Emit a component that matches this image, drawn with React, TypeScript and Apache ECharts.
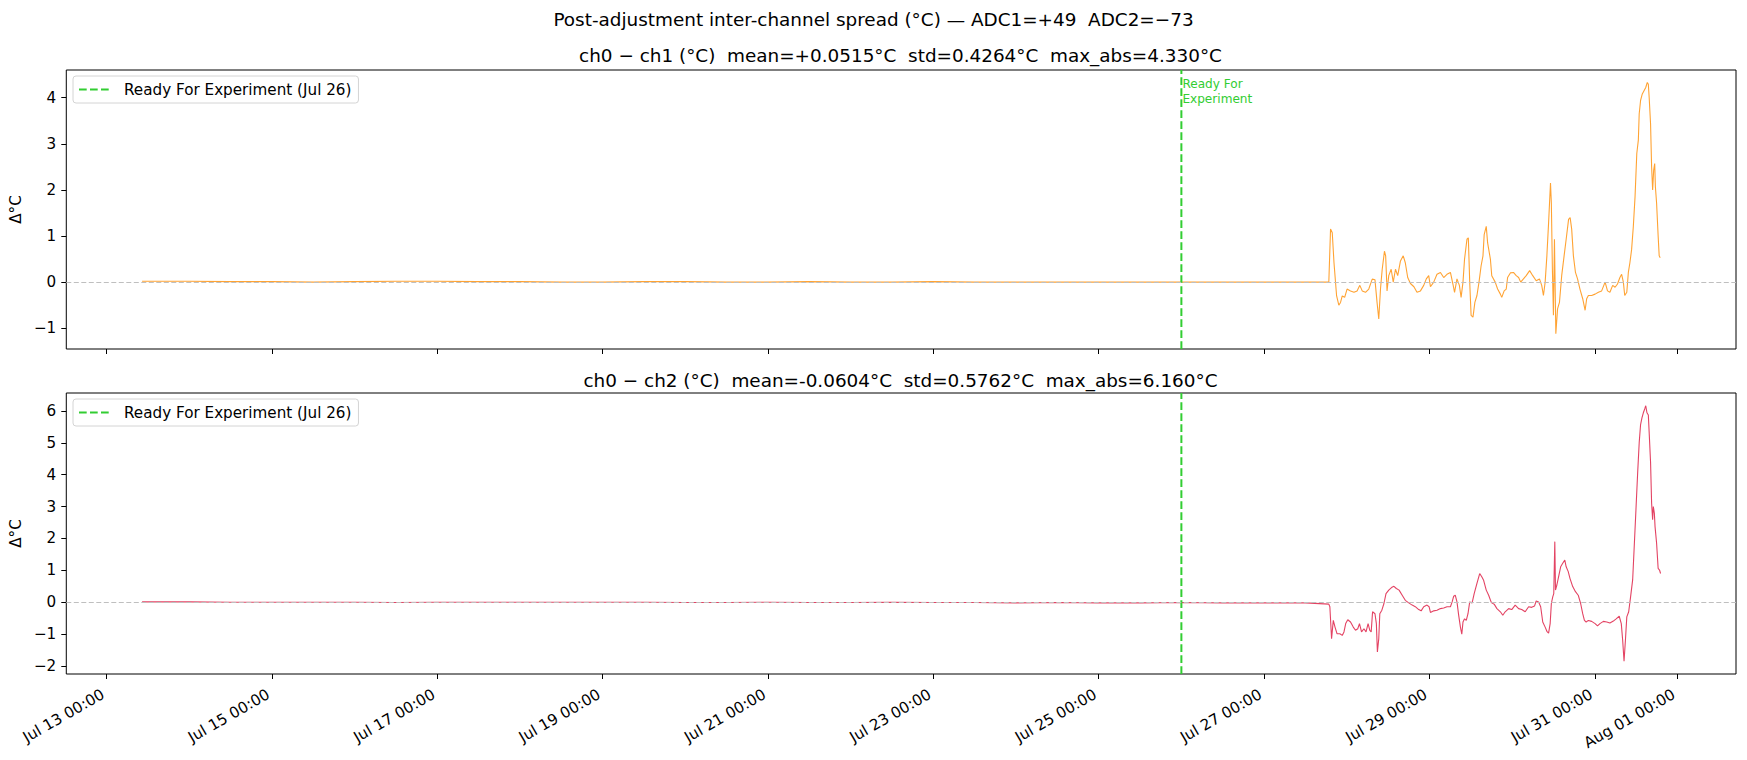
import React, { useEffect, useRef } from "react";
import * as echarts from "echarts";

// ---- data (hours relative to Jul 27 00:00 local) ----
const REF_DATE = "2025-07-27T00:00:00";
const READY_DATE = "2025-07-26T00:00:00";
const X_MIN_H = -347.7;
const X_MAX_H = 137.0;

const xTickDates = [
  "2025-07-13T00:00:00", "2025-07-15T00:00:00", "2025-07-17T00:00:00", "2025-07-19T00:00:00",
  "2025-07-21T00:00:00", "2025-07-23T00:00:00", "2025-07-25T00:00:00", "2025-07-27T00:00:00",
  "2025-07-29T00:00:00", "2025-07-31T00:00:00", "2025-08-01T00:00:00",
];

const topYTicks = [-1, 0, 1, 2, 3, 4];
const botYTicks = [-2, -1, 0, 1, 2, 3, 4, 5, 6];
const topYRange = [-1.45, 4.6];
const botYRange = [-2.25, 6.56];

const flatHours = [
  -325.7, -312, -300, -288, -276, -264, -252, -240, -228, -216, -204, -192, -180, -168, -156,
  -144, -132, -120, -108, -96, -84, -72, -60, -48, -36, -24, -12, 0, 12,
];
const ch01Flat = [
  0.02, 0.02, 0.01, 0.01, 0.0, 0.01, 0.02, 0.02, 0.01, 0.01, 0.0, 0.0, 0.01, 0.01, 0.0,
  0.0, 0.01, 0.0, 0.0, 0.01, 0.0, 0.0, 0.0, 0.0, 0.0, 0.0, 0.0, 0.0, 0.0,
];
const ch02Flat = [
  0.01, 0.01, 0.0, 0.0, 0.0, 0.0, -0.01, 0.0, 0.0, 0.0, 0.0, 0.0, 0.0, -0.01, -0.01,
  0.0, -0.01, -0.01, 0.0, -0.01, -0.01, -0.02, -0.01, -0.02, -0.02, -0.01, -0.02, -0.02, -0.02,
];

const ch01Hours = [
  18.8, 19.3, 19.8, 20.3, 21.05, 21.7, 22.2, 22.7, 23.4, 24.1, 25.1, 26.1, 27.0, 27.8, 28.5,
  29.45, 30.4, 31.4, 32.2, 32.8, 33.3, 33.8, 34.3, 34.95, 35.3, 35.7, 36.2, 36.9, 37.5, 38.15,
  38.8, 39.6, 40.4, 41.0, 41.7, 42.5, 43.5, 44.4, 45.4, 46.35, 47.1, 47.8, 48.3, 49.25, 50.2,
  51.2, 52.15, 53.1, 54.1, 54.9, 55.3, 56.0, 56.7, 57.2, 57.75, 58.2, 58.9, 59.3, 59.7, 60.1,
  60.65, 61.2, 61.8, 62.4, 63.0, 63.55, 63.9, 64.5, 64.9, 65.7, 66.1, 67.1, 67.8, 68.6, 69.0,
  69.7, 70.3, 70.7, 71.5, 72.4, 73.2, 73.9, 74.5, 75.3, 76.1, 77.1, 78.0, 79.0, 79.95, 80.6,
  81.1, 81.6, 82.1, 82.6, 83.15, 83.4, 83.7, 84.0, 84.3, 84.7, 85.2, 85.75, 86.4, 87.1, 87.7,
  88.4, 88.85, 89.3, 89.8, 90.4, 91.0, 91.7, 92.5, 93.2, 93.65, 94.15, 95.1, 96.1, 97.05, 98.0,
  99.0, 99.7, 100.4, 101.2, 101.9, 102.6, 103.3, 103.8, 104.3, 104.7, 105.3, 105.75, 106.2, 106.7, 107.2,
  107.7, 108.2, 108.65, 108.9, 109.3, 109.8, 110.3, 110.8, 111.25, 111.55, 111.8, 112.2, 112.5, 112.8, 113.1,
  113.4, 113.6, 113.95, 114.4, 114.7, 115.0,
];
const ch01Values = [
  0.0, 1.15, 1.07, 0.42, -0.29, -0.5, -0.44, -0.3, -0.33, -0.15, -0.19, -0.22, -0.19, -0.07, -0.19,
  -0.22, -0.15, 0.065, 0.05, -0.44, -0.8, -0.15, 0.28, 0.67, 0.57, -0.19, 0.14, 0.28, 0.0, 0.28,
  0.14, 0.46, 0.57, 0.42, 0.1, -0.03, -0.1, -0.22, -0.19, -0.07, 0.07, 0.14, -0.1, 0.0, 0.17,
  0.21, 0.1, 0.17, 0.21, -0.07, -0.22, 0.07, -0.07, -0.33, 0.0, 0.5, 0.93, 0.96, 0.0, -0.72,
  -0.76, -0.44, -0.29, 0.0, 0.35, 0.57, 1.03, 1.21, 0.85, 0.5, 0.14, 0.0, -0.15, -0.26, -0.33,
  -0.19, -0.15, 0.1, 0.2, 0.21, 0.14, 0.1, 0.0, 0.07, 0.14, 0.25, 0.14, 0.03, 0.07, -0.07,
  -0.29, 0.0, 0.57, 1.29, 2.15, 1.71, 0.28, -0.72, 0.93, -1.12, -0.58, -0.44, 0.14, 0.57, 0.93,
  1.36, 1.4, 1.15, 0.57, 0.21, 0.07, -0.15, -0.36, -0.61, -0.36, -0.29, -0.29, -0.26, -0.22, -0.19,
  0.0, -0.19, -0.22, -0.07, -0.11, -0.04, 0.1, 0.17, 0.0, -0.29, -0.22, 0.21, 0.42, 0.71, 1.21,
  1.86, 2.79, 3.08, 3.65, 3.94, 4.08, 4.15, 4.22, 4.33, 4.29, 4.0, 3.43, 2.5, 2.0, 2.43,
  2.57, 2.07, 1.71, 1.0, 0.57, 0.53,
];

const ch02Hours = [
  18.8, 19.1, 19.6, 20.1, 20.6, 21.2, 22.0, 22.7, 23.2, 23.7, 24.3, 25.1, 25.9, 26.55, 27.2,
  27.7, 28.3, 29.0, 29.6, 30.2, 30.7, 31.1, 31.5, 32.2, 32.6, 32.9, 33.3, 33.6, 34.2, 34.8,
  35.4, 36.2, 37.0, 37.7, 38.4, 39.2, 40.1, 41.0, 42.0, 43.0, 43.9, 44.9, 45.6, 46.35, 47.3,
  47.9, 48.3, 49.25, 50.2, 51.2, 52.15, 53.1, 54.1, 54.6, 55.05, 55.5, 56.0, 56.5, 57.0, 57.4,
  57.75, 58.2, 58.7, 59.2, 59.7, 60.4, 61.0, 61.8, 62.6, 63.2, 63.7, 64.5, 65.2, 65.9, 66.1,
  66.8, 67.6, 68.6, 69.3, 70.0, 71.0, 71.9, 72.9, 73.9, 74.8, 75.8, 76.8, 77.7, 78.5, 79.0,
  79.7, 80.3, 80.9, 81.6, 82.1, 82.6, 83.05, 83.4, 83.8, 84.1, 84.4, 84.6, 85.0, 85.6, 86.1,
  86.7, 87.3, 87.7, 88.3, 88.8, 89.6, 90.4, 91.2, 91.9, 92.5, 93.0, 93.5, 94.15, 95.1, 96.1,
  96.8, 97.5, 98.5, 99.5, 100.4, 101.4, 102.2, 103.1, 103.7, 104.1, 104.5, 104.9, 105.3, 105.85, 106.4,
  107.0, 107.5, 108.0, 108.45, 108.9, 109.3, 109.7, 110.1, 110.5, 110.8, 111.15, 111.55, 111.8, 112.2, 112.5,
  112.8, 113.0, 113.3, 113.5, 113.95, 114.4, 114.8, 115.1,
];
const ch02Values = [
  -0.06, -0.14, -1.14, -0.57, -0.78, -0.99, -0.99, -1.04, -0.93, -0.67, -0.55, -0.62, -0.78, -0.88, -0.83,
  -0.67, -0.93, -0.83, -0.93, -0.67, -0.88, -0.93, -0.3, -0.36, -0.67, -1.56, -1.14, -0.36, -0.25, -0.04,
  0.27, 0.38, 0.46, 0.5, 0.43, 0.38, 0.22, 0.06, -0.02, -0.09, -0.14, -0.23, -0.27, -0.14, -0.09,
  -0.14, -0.32, -0.27, -0.25, -0.2, -0.18, -0.14, -0.14, 0.01, 0.19, 0.22, 0.01, -0.41, -0.78, -1.0,
  -0.62, -0.52, -0.57, -0.36, 0.01, -0.02, 0.27, 0.59, 0.9, 0.8, 0.7, 0.38, 0.22, 0.01, -0.02,
  -0.06, -0.2, -0.3, -0.41, -0.3, -0.2, -0.23, -0.09, -0.2, -0.23, -0.3, -0.14, -0.16, -0.12, 0.04,
  0.01, -0.14, -0.62, -0.78, -0.91, -0.97, -0.67, -0.04, 0.17, 0.27, 1.9, 0.38, 0.54, 0.85, 1.11,
  1.22, 1.32, 1.11, 0.96, 0.75, 0.49, 0.33, 0.22, -0.04, -0.36, -0.57, -0.62, -0.57, -0.6, -0.67,
  -0.74, -0.67, -0.6, -0.62, -0.65, -0.59, -0.52, -0.44, -0.67, -1.19, -1.85, -1.19, -0.46, -0.3, 0.17,
  0.7, 1.85, 3.0, 4.05, 5.0, 5.57, 5.78, 5.94, 6.06, 6.16, 5.94, 5.87, 5.31, 4.38, 3.11,
  2.59, 3.0, 2.79, 2.37, 1.85, 1.06, 1.01, 0.9,
];

const SUPTITLE = "Post-adjustment inter-channel spread (°C) — ADC1=+49  ADC2=\u221273";
const TITLE1 = "ch0 \u2212 ch1 (°C)  mean=+0.0515°C  std=0.4264°C  max_abs=4.330°C";
const TITLE2 = "ch0 \u2212 ch2 (°C)  mean=-0.0604°C  std=0.5762°C  max_abs=6.160°C";
const READY_NAME = "Ready For Experiment (Jul 26)";
const READY_NOTE = "Ready For\nExperiment";
const READY_NOTE_Y = 4.13;

const MONTHS = ["Jan", "Feb", "Mar", "Apr", "May", "Jun", "Jul", "Aug", "Sep", "Oct", "Nov", "Dec"];
const FONT = "DejaVu Sans";
const TITLE_FS = 18.4;
const TICK_FS = 15.2;

function pad2(n: number) {
  return n < 10 ? "0" + n : String(n);
}

export default function App() {
  const ref = useRef<HTMLDivElement>(null);

  useEffect(() => {
    document.body.style.margin = "0";
    if (!ref.current) return;
    const chart = echarts.init(ref.current, null, { renderer: "svg" });

    const base = new Date(REF_DATE).getTime();
    const t = (h: number) => base + h * 3600000;
    const readyT = new Date(READY_DATE).getTime();
    const xTicks = xTickDates.map((s) => new Date(s).getTime());

    const s1 = flatHours.map((h, i) => [t(h), ch01Flat[i]]).concat(ch01Hours.map((h, i) => [t(h), ch01Values[i]]));
    const s2 = flatHours.map((h, i) => [t(h), ch02Flat[i]]).concat(ch02Hours.map((h, i) => [t(h), ch02Values[i]]));

    const fmtX = (v: number) => {
      const d = new Date(v);
      return `${MONTHS[d.getMonth()]} ${pad2(d.getDate())} ${pad2(d.getHours())}:${pad2(d.getMinutes())}`;
    };
    const fmtY = (v: number) => (v < 0 ? "\u2212" + Math.abs(v) : String(v));

    const gridL = 65;
    const gridW = 1671;

    const xAxisBase = (gi: number, labels: boolean) => ({
      type: "value",
      gridIndex: gi,
      min: t(X_MIN_H),
      max: t(X_MAX_H),
      scale: true,
      axisLine: { show: false, onZero: false },
      splitLine: { show: false },
      axisTick: { show: true, customValues: xTicks, length: 5, lineStyle: { color: "#000", width: 1 } },
      axisLabel: {
        show: labels,
        customValues: xTicks,
        formatter: fmtX,
        rotate: 30,
        margin: 17,
        padding: [0, 4, 0, 0],
        color: "#000",
        fontSize: TICK_FS,
        fontFamily: FONT,
      },
    });

    const yAxisBase = (gi: number, range: number[], ticks: number[]) => ({
      type: "value",
      gridIndex: gi,
      min: range[0],
      max: range[1],
      name: "Δ°C",
      nameLocation: "middle",
      nameRotate: 90,
      nameGap: 37,
      nameTextStyle: { color: "#000", fontSize: TICK_FS, fontFamily: FONT },
      axisLine: { show: false, onZero: false },
      splitLine: { show: false },
      axisTick: { show: true, customValues: ticks, length: 5, lineStyle: { color: "#000", width: 1 } },
      axisLabel: { customValues: ticks, formatter: fmtY, color: "#000", fontSize: TICK_FS, fontFamily: FONT, margin: 10 },
    });

    const zeroLine = {
      silent: true,
      symbol: "none",
      label: { show: false },
      lineStyle: { color: "#bfbfbf", type: [5, 2.5], width: 1.1 },
      data: [{ yAxis: 0 }],
    };

    const legendBase = (top: number) => ({
      data: [READY_NAME],
      left: 73,
      top,
      orient: "vertical",
      itemWidth: 32,
      itemHeight: 14,
      padding: [6, 7, 6, 5],
      borderColor: "#d4d4d4",
      borderWidth: 1,
      borderRadius: 3,
      backgroundColor: "rgba(255,255,255,0.8)",
      selectedMode: false,
      itemStyle: { opacity: 0 },
      lineStyle: { color: "#32cd32", width: 2, type: [7.7, 3.3] },
      textStyle: { color: "#000", fontSize: TICK_FS, fontFamily: FONT, padding: [0, 0, 0, 8] },
    });

    const readySeries = (xi: number, range: number[], withNote: boolean) => ({
      name: READY_NAME,
      type: "line",
      xAxisIndex: xi,
      yAxisIndex: xi,
      symbol: "none",
      showSymbol: false,
      silent: true,
      color: "#32cd32",
      lineStyle: { color: "#32cd32", width: 2, type: [7.7, 3.3] },
      data: [
        [readyT, range[0]],
        [readyT, range[1]],
      ],
      markPoint: withNote
        ? {
            silent: true,
            symbol: "circle",
            symbolSize: 0,
            label: {
              show: true,
              position: "right",
              distance: 1,
              formatter: READY_NOTE,
              color: "#32cd32",
              fontSize: 12.1,
              lineHeight: 15,
              fontFamily: FONT,
              align: "left",
            },
            data: [{ coord: [readyT, READY_NOTE_Y] }],
          }
        : undefined,
      z: 3,
    });

    chart.setOption({
      animation: false,
      backgroundColor: "#fff",
      textStyle: { fontFamily: FONT },
      graphic: [
        {
          type: "text",
          x: 873.5,
          y: 19,
          style: { text: SUPTITLE, fill: "#000", fontSize: TITLE_FS, fontFamily: FONT, align: "center", verticalAlign: "middle" },
        },
        {
          type: "text",
          x: gridL + gridW / 2,
          y: 55,
          style: { text: TITLE1, fill: "#000", fontSize: TITLE_FS, fontFamily: FONT, align: "center", verticalAlign: "middle" },
        },
        {
          type: "text",
          x: gridL + gridW / 2,
          y: 380,
          style: { text: TITLE2, fill: "#000", fontSize: TITLE_FS, fontFamily: FONT, align: "center", verticalAlign: "middle" },
        },
      ],
      legend: [legendBase(76), legendBase(399)],
      grid: [
        { left: gridL, top: 70, width: gridW, height: 279, show: true, borderColor: "#000", borderWidth: 1, backgroundColor: "transparent" },
        { left: gridL, top: 393, width: gridW, height: 281, show: true, borderColor: "#000", borderWidth: 1, backgroundColor: "transparent" },
      ],
      xAxis: [xAxisBase(0, false), xAxisBase(1, true)],
      yAxis: [yAxisBase(0, topYRange, topYTicks), yAxisBase(1, botYRange, botYTicks)],
      series: [
        {
          name: "ch0-ch1",
          type: "line",
          xAxisIndex: 0,
          yAxisIndex: 0,
          symbol: "none",
          showSymbol: false,
          lineStyle: { color: "rgba(255,140,0,0.8)", width: 1.1 },
          data: s1,
          markLine: zeroLine,
          z: 2,
        },
        readySeries(0, topYRange, true),
        {
          name: "ch0-ch2",
          type: "line",
          xAxisIndex: 1,
          yAxisIndex: 1,
          symbol: "none",
          showSymbol: false,
          lineStyle: { color: "rgba(220,20,60,0.8)", width: 1.1 },
          data: s2,
          markLine: zeroLine,
          z: 2,
        },
        readySeries(1, botYRange, false),
      ],
    });

    return () => chart.dispose();
  }, []);

  return <div ref={ref} style={{ width: 1747, height: 760 }} />;
}
